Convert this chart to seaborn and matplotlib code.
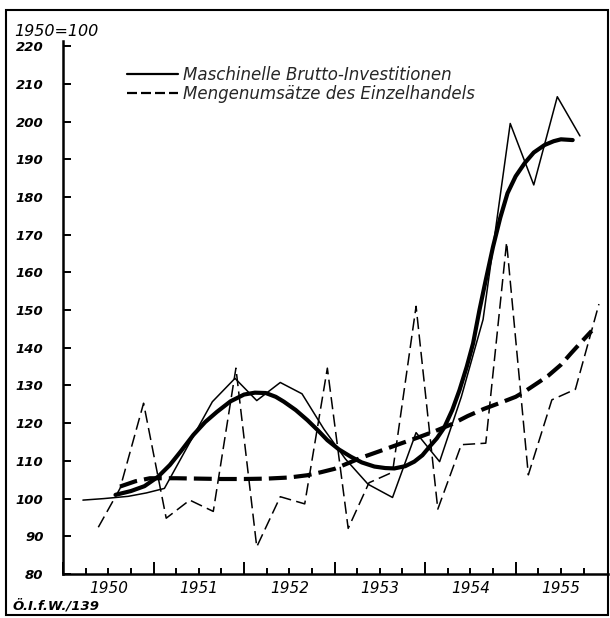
import matplotlib
matplotlib.use("Agg")
import matplotlib.pyplot as plt
import seaborn as sns
import pandas as pd
from matplotlib.lines import Line2D
from matplotlib.patches import Rectangle

# ---------------- data ----------------
# Maschinelle Brutto-Investitionen, quarterly (thin solid)
inv_q_x = [1950.22, 1950.45, 1950.72, 1950.92, 1951.12, 1951.38, 1951.65, 1951.90,
           1952.14, 1952.40, 1952.64, 1952.88, 1953.12, 1953.37, 1953.64, 1953.90,
           1954.16, 1954.40, 1954.64, 1954.94, 1955.20, 1955.46, 1955.71]
inv_q_y = [99.6, 100.0, 100.6, 101.5, 102.7, 114.0, 125.7, 131.9,
           126.0, 130.8, 127.8, 118.5, 110.5, 103.8, 100.3, 117.5,
           109.8, 127.0, 147.5, 199.5, 183.2, 206.6, 196.2]

# Mengenumsätze des Einzelhandels, quarterly (thin dashed)
ret_q_x = [1950.39, 1950.63, 1950.89, 1951.14, 1951.40, 1951.66, 1951.91, 1952.14,
           1952.40, 1952.67, 1952.92, 1953.15, 1953.38, 1953.64, 1953.90, 1954.14,
           1954.40, 1954.67, 1954.90, 1955.14, 1955.40, 1955.66, 1955.92]
ret_q_y = [92.4, 102.7, 125.3, 94.8, 99.6, 96.6, 134.6, 87.2,
           100.5, 98.6, 134.6, 92.1, 104.2, 107.0, 151.0, 97.2,
           114.3, 114.7, 168.0, 106.3, 126.2, 129.0, 151.6]

# Trend of investments (thick solid)
inv_trend_x = [1950.58, 1950.75, 1950.90, 1951.05, 1951.18, 1951.30, 1951.44, 1951.57,
               1951.70, 1951.85, 1952.00, 1952.12, 1952.24, 1952.35, 1952.44, 1952.57,
               1952.70, 1952.82, 1952.92, 1953.05, 1953.18, 1953.30, 1953.44, 1953.56,
               1953.66, 1953.78, 1953.88, 1953.97, 1954.05, 1954.13, 1954.21, 1954.30,
               1954.38, 1954.46, 1954.53, 1954.60, 1954.67, 1954.75, 1954.83, 1954.91,
               1955.00, 1955.10, 1955.20, 1955.32, 1955.42, 1955.50, 1955.63]
inv_trend_y = [101.0, 102.0, 103.3, 105.8, 108.9, 112.5, 116.9, 120.3,
               123.0, 125.8, 127.6, 128.1, 128.0, 127.0, 125.7, 123.5,
               120.8, 118.0, 115.5, 113.0, 111.1, 109.6, 108.5, 108.1,
               108.0, 108.6, 109.8, 111.5, 113.8, 116.0, 118.8, 123.5,
               128.8, 135.0, 141.2, 150.0, 158.0, 166.8, 174.5, 181.0,
               185.5, 189.0, 191.8, 193.8, 194.8, 195.3, 195.1]

# Trend of retail sales (thick dashed)
ret_trend_x = [1950.63, 1950.80, 1950.96, 1951.25, 1951.50, 1951.75, 1952.00, 1952.25,
               1952.50, 1952.70, 1952.85, 1953.00, 1953.15, 1953.30, 1953.50, 1953.73,
               1953.92, 1954.10, 1954.30, 1954.47, 1954.65, 1954.84, 1955.00, 1955.10,
               1955.25, 1955.36, 1955.50, 1955.61, 1955.72, 1955.84]
ret_trend_y = [103.2, 104.6, 105.4, 105.4, 105.3, 105.2, 105.2, 105.3,
               105.6, 106.2, 107.0, 107.9, 109.4, 110.9, 112.6, 114.6,
               116.2, 117.8, 119.8, 121.9, 123.8, 125.5, 127.0, 128.4,
               130.8, 132.6, 135.5, 138.5, 141.4, 144.5]

year_labels = ["1950", "1951", "1952", "1953", "1954", "1955"]
y_ticks = [80, 90, 100, 110, 120, 130, 140, 150, 160, 170, 180, 190, 200, 210, 220]
legend_labels = ["Maschinelle Brutto-Investitionen", "Mengenumsätze des Einzelhandels"]
base_label = "1950=100"
source_label = "Ö.I.f.W./139"

# ---------------- figure ----------------
sns.set_theme(style="white")
plt.rcParams["font.family"] = ["DejaVu Sans"]

W, H = 610, 618
fig = plt.figure(figsize=(W / 100, H / 100), dpi=100)
fig.patch.set_facecolor("white")

y_top = 221.5
px_per_unit = 3.77
ax_top_px = 574 - (y_top - 80) * px_per_unit
ax = fig.add_axes([63 / W, (H - 574) / H, (608 - 63) / W, (574 - ax_top_px) / H])
ax.set_facecolor("white")

df_iq = pd.DataFrame({"x": inv_q_x, "y": inv_q_y})
df_rq = pd.DataFrame({"x": ret_q_x, "y": ret_q_y})
df_it = pd.DataFrame({"x": inv_trend_x, "y": inv_trend_y})
df_rt = pd.DataFrame({"x": ret_trend_x, "y": ret_trend_y})

sns.lineplot(data=df_iq, x="x", y="y", ax=ax, color="black", lw=1.1,
             estimator=None, sort=False)
sns.lineplot(data=df_rq, x="x", y="y", ax=ax, color="black", lw=1.1,
             linestyle=(0, (8, 3.5)), estimator=None, sort=False)
sns.lineplot(data=df_it, x="x", y="y", ax=ax, color="black", lw=3.0,
             estimator=None, sort=False, solid_capstyle="round",
             solid_joinstyle="round")
sns.lineplot(data=df_rt, x="x", y="y", ax=ax, color="black", lw=3.0,
             linestyle=(0, (4.3, 1.7)), estimator=None, sort=False)

ax.set_xlim(1950.0, 1956.02)
ax.set_ylim(80, y_top)
ax.set_xlabel("")
ax.set_ylabel("")

# y axis
ax.set_yticks(y_ticks)
ax.set_yticklabels([str(v) for v in y_ticks], fontstyle="italic",
                   fontweight="bold", fontsize=9.5)
ax.tick_params(axis="y", direction="in", length=6, width=1.4, pad=14,
               left=True, colors="black")

# x axis: quarter ticks with year labels in the middle of each year
xt, xl = [], []
for lab in year_labels:
    yv = int(lab)
    xt += [yv + 0.25, yv + 0.5, yv + 0.75]
    xl += ["", lab, ""]
ax.set_xticks(xt)
ax.set_xticklabels(xl, fontstyle="italic", fontsize=11)
ax.set_xticks([int(v) for v in year_labels], minor=True)
ax.tick_params(axis="x", which="major", direction="in", length=4.5, width=1.4,
               pad=5, bottom=True, colors="black")
ax.tick_params(axis="x", which="minor", direction="in", length=8.5, width=1.4,
               bottom=True, colors="black")

for s in ["top", "right"]:
    ax.spines[s].set_visible(False)
for s in ["left", "bottom"]:
    ax.spines[s].set_color("black")
    ax.spines[s].set_linewidth(1.8)

# legend
handles = [Line2D([], [], color="black", lw=1.6),
           Line2D([], [], color="black", lw=1.6, linestyle=(0, (4.5, 1.8)))]
ax.legend(handles=handles, labels=legend_labels, loc="upper left",
          bbox_to_anchor=(127 / W, 1 - 66 / H), bbox_transform=fig.transFigure,
          frameon=False, prop=dict(style="italic", size=12),
          handlelength=3.05, handletextpad=0.3, labelspacing=0.05,
          borderpad=0, borderaxespad=0)

# texts
fig.text(14 / W, 1 - 31 / H, base_label, fontstyle="italic", fontsize=11.5,
         va="center", ha="left", color="black")
fig.text(13 / W, 1 - 606 / H, source_label, fontstyle="italic",
         fontweight="bold", fontsize=9.5, va="center", ha="left", color="black")

# outer frame
fig.patches.append(Rectangle((6 / W, 3 / H), (608 - 6) / W, (H - 10 - 3) / H,
                             fill=False, lw=1.5, edgecolor="black",
                             transform=fig.transFigure, figure=fig))

fig.savefig("out.png", dpi=100, facecolor="white")
